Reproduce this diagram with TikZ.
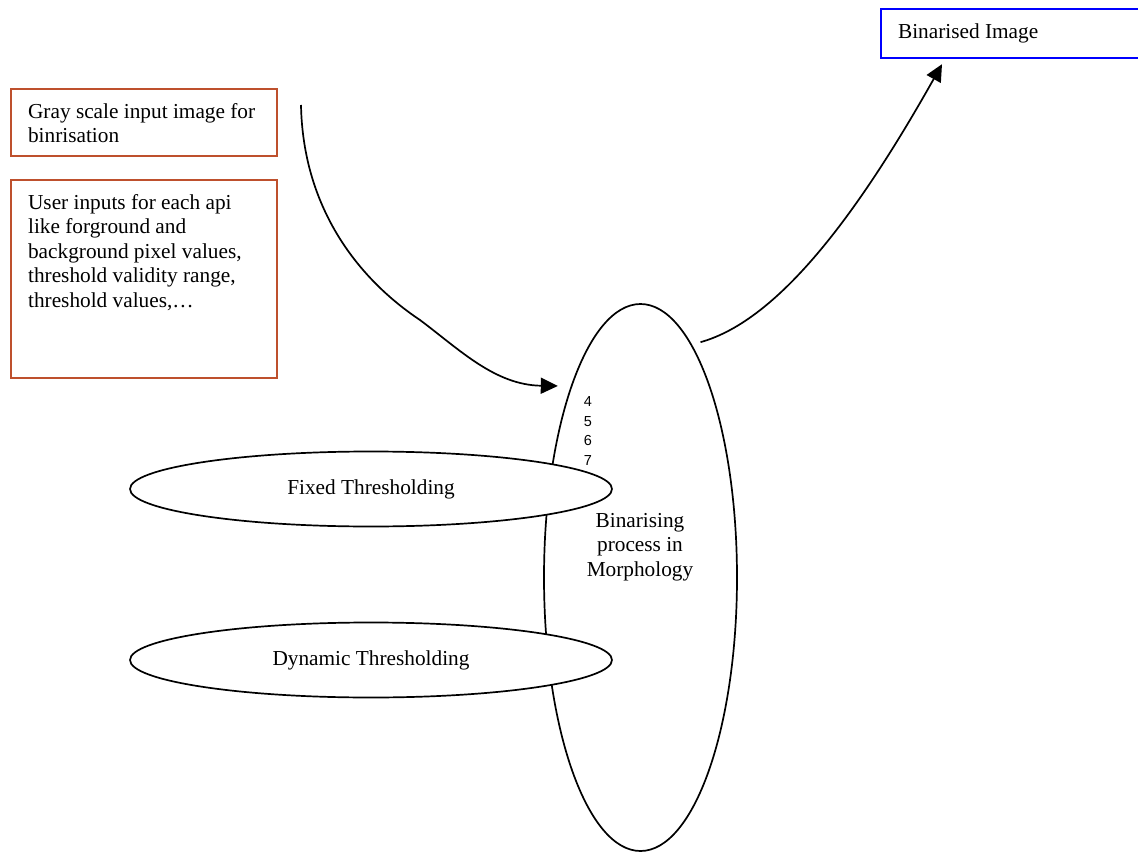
\documentclass[tikz,border=0pt]{standalone}
\usepackage{fontspec}
\setmainfont{Liberation Serif}
\newfontfamily\digitfont{Liberation Sans}
\usetikzlibrary{shapes.geometric,arrows.meta}
\definecolor{boxbrown}{RGB}{190,80,45}
\begin{document}
\begin{tikzpicture}[x=1pt,y=-1pt,line width=1.7pt,>={Triangle[length=17pt,width=16pt]},
  font=\fontsize{21.3}{24.5}\selectfont,
  inbox/.style={draw=boxbrown,line width=2.2pt,anchor=north west,align=flush left,inner xsep=17pt,inner ysep=10pt,text height=19pt,text width=232pt},
  oval/.style={draw,ellipse,fill=white,inner sep=0pt}]
\useasboundingbox (0,0) rectangle (1138,853);
% inputs
\node[inbox,text depth=28pt] (gray) at (10,88) {Gray scale input image for\\binrisation};
\node[inbox,text depth=159pt] (user) at (10,179) {User inputs for each api\\like forground and\\background pixel values,\\threshold validity range,\\threshold values,\dots};
\node[inbox,draw=blue,text width=260pt,text depth=10pt] (binimg) at (880,8) {Binarised Image};
% binarising process
\node[oval,minimum width=193pt,minimum height=547pt] (morph) at (640.5,577.5) {};
\node[align=center] (morphtxt) at (640,547) {Binarising\\process in\\Morphology};
\node[font=\digitfont\fontsize{14.5}{19.5}\selectfont,align=center] (steps) at (588,431) {4\\5\\6\\7};
\coordinate (grayout) at (301,105);
\draw[->] (grayout) .. controls (303,210) and (360,280) .. (420,320) .. controls (460,350) and (495,385) .. ([xshift=-13pt]morph.110);
\draw[->] ([xshift=10pt]morph.78) .. controls (780,320) and (860,210) .. ([shift={(62pt,-5pt)}]binimg.south west);
% thresholding methods
\node[oval,minimum width=482pt,minimum height=75pt] (fixed) at (371,489) {Fixed Thresholding};
\node[oval,minimum width=482pt,minimum height=75pt] (dynamic) at (371,660) {Dynamic Thresholding};
\end{tikzpicture}
\end{document}
